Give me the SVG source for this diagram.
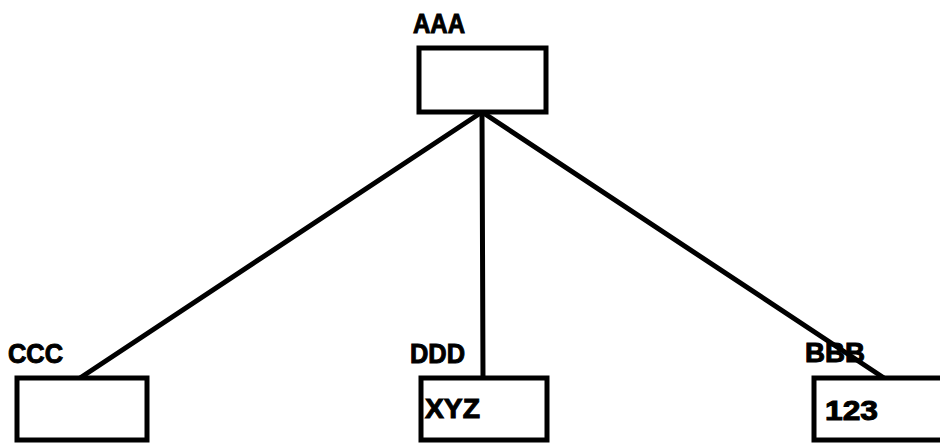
<svg xmlns="http://www.w3.org/2000/svg" width="940" height="446" viewBox="0 0 940 446">
<style>
.box{fill:#fff;stroke:#000;stroke-width:5}
.ln{stroke:#000;stroke-width:5;fill:none;stroke-linecap:round}
text{font-family:"Liberation Sans",Arial,sans-serif;font-weight:bold;font-size:27px;fill:#000;stroke:#000;stroke-width:1}
</style>
<rect width="940" height="446" fill="#fff"/>
<g id="connectors">
<line class="ln" x1="482" y1="112" x2="80" y2="378"/>
<line class="ln" x1="482" y1="112" x2="483" y2="378"/>
<line class="ln" x1="482" y1="112" x2="884" y2="378"/>
</g>
<g id="AAA">
<rect class="box" x="419" y="48" width="127" height="64"/>
<text x="413" y="33" textLength="52" lengthAdjust="spacingAndGlyphs">AAA</text>
</g>
<g id="CCC">
<rect class="box" x="17" y="378" width="130" height="62"/>
<text x="8" y="363" textLength="55" lengthAdjust="spacingAndGlyphs">CCC</text>
</g>
<g id="DDD">
<rect class="box" x="421" y="378" width="126" height="62"/>
<text x="410" y="363" textLength="55" lengthAdjust="spacingAndGlyphs">DDD</text>
<text x="425" y="418" textLength="55" lengthAdjust="spacingAndGlyphs">XYZ</text>
</g>
<g id="BBB">
<rect class="box" x="814" y="378" width="140" height="62"/>
<text x="805" y="362" textLength="60" lengthAdjust="spacingAndGlyphs">BBB</text>
<text x="825" y="420" textLength="53" lengthAdjust="spacingAndGlyphs">123</text>
</g>
</svg>
